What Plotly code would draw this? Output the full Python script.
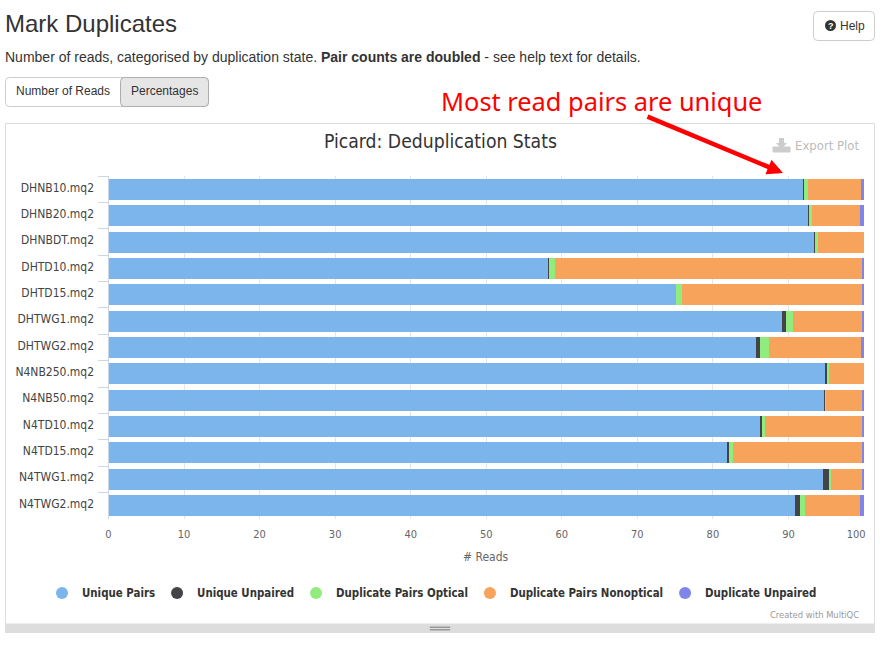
import plotly.graph_objects as go

W, H = 884, 645

samples = ['DHNB10.mq2', 'DHNB20.mq2', 'DHNBDT.mq2', 'DHTD10.mq2', 'DHTD15.mq2', 'DHTWG1.mq2', 'DHTWG2.mq2',
           'N4NB250.mq2', 'N4NB50.mq2', 'N4TD10.mq2', 'N4TD15.mq2', 'N4TWG1.mq2', 'N4TWG2.mq2']
unique_pairs = [91.9, 92.6, 93.4, 58.2, 75.1, 89.15, 85.7, 94.85, 94.7, 86.2, 81.85, 94.55, 90.85]
unique_unpaired = [0.13, 0.13, 0.13, 0.13, 0.0, 0.53, 0.53, 0.26, 0.13, 0.26, 0.26, 0.8, 0.66]
dup_optical = [0.57, 0.4, 0.4, 0.8, 0.8, 0.93, 1.2, 0.26, 0.13, 0.4, 0.53, 0.26, 0.66]
dup_nonoptical = [7.0, 6.35, 6.07, 40.6, 23.85, 9.13, 12.17, 4.63, 4.77, 12.87, 17.09, 4.12, 7.3]
dup_unpaired = [0.4, 0.52, 0.0, 0.27, 0.25, 0.26, 0.4, 0.0, 0.27, 0.27, 0.27, 0.27, 0.53]

series_names = ['Unique Pairs', 'Unique Unpaired', 'Duplicate Pairs Optical', 'Duplicate Pairs Nonoptical',
                'Duplicate Unpaired']
series_values = [unique_pairs, unique_unpaired, dup_optical, dup_nonoptical, dup_unpaired]
series_colors = ['#7cb5ec', '#434348', '#90ed7d', '#f7a35c', '#8085e9']

x_ticks = list(range(0, 101, 10))
x_labels = [str(t) for t in x_ticks]
x_labels[-1] = '100' + '\u00a0' * 5

chart_font = 'DejaVu Sans Condensed, DejaVu Sans'
page_font = 'Liberation Sans, Arial'


def px(x):
    return x / W


def py(y):
    return 1 - y / H


def round_rect(x0, y0, x1, y1, r=4):
    return (f'M {px(x0 + r)} {py(y0)} L {px(x1 - r)} {py(y0)} Q {px(x1)} {py(y0)} {px(x1)} {py(y0 + r)} '
            f'L {px(x1)} {py(y1 - r)} Q {px(x1)} {py(y1)} {px(x1 - r)} {py(y1)} '
            f'L {px(x0 + r)} {py(y1)} Q {px(x0)} {py(y1)} {px(x0)} {py(y1 - r)} '
            f'L {px(x0)} {py(y0 + r)} Q {px(x0)} {py(y0)} {px(x0 + r)} {py(y0)} Z')


def text(x, y, s, size, color='#333333', family=page_font, anchor='left'):
    return dict(x=px(x), y=py(y), xref='paper', yref='paper', text=s, showarrow=False, xanchor=anchor,
                yanchor='middle', font=dict(size=size, color=color, family=family))


def rect(x0, y0, x1, y1, fill='rgba(0,0,0,0)', line='#dddddd'):
    return dict(type='rect', xref='paper', yref='paper', x0=px(x0), y0=py(y0), x1=px(x1), y1=py(y1),
                fillcolor=fill, line=dict(color=line, width=1), layer='below')


def rpath(x0, y0, x1, y1, fill='rgba(0,0,0,0)', line='#cccccc'):
    return dict(type='path', xref='paper', yref='paper', path=round_rect(x0, y0, x1, y1), fillcolor=fill,
                line=dict(color=line, width=1), layer='below')


fig = go.Figure()

for name, values, color in zip(series_names, series_values, series_colors):
    fig.add_trace(go.Bar(y=samples, x=values, name=name, orientation='h', marker=dict(color=color, line=dict(width=0)),
                         legendgroup=name, showlegend=False))
    # bars only get square legend keys, the original has round ones
    fig.add_trace(go.Scatter(x=[None], y=[None], mode='markers', name=name, legendgroup=name,
                             marker=dict(color=color, size=12, symbol='circle')))

shapes = [
    rect(5.5, 123.5, 874.5, 632.5),
    rect(5.5, 624, 874.5, 632.5, fill='#dddddd'),
    rect(430, 627, 450, 627.5, fill='#999999', line='#999999'),
    rect(430, 629.5, 450, 630, fill='#999999', line='#999999'),
    rpath(5.5, 77.5, 208.5, 106.5),
    rpath(120.5, 77.5, 208.5, 106.5, fill='#e6e6e6', line='#adadad'),
    rpath(813.5, 11.5, 874.5, 40.5),
    # help icon
    dict(type='circle', xref='paper', yref='paper', x0=px(825), y0=py(20), x1=px(836), y1=py(31),
         fillcolor='#333333', line=dict(width=0), layer='below'),
    # export icon
    rect(773, 147, 790, 152, fill='#cccccc', line='#cccccc'),
    dict(type='path', xref='paper', yref='paper', layer='below', fillcolor='#cccccc', line=dict(width=0),
         path=f'M {px(779)} {py(138)} L {px(784)} {py(138)} L {px(784)} {py(143)} L {px(787)} {py(143)} '
              f'L {px(781.5)} {py(149)} L {px(776)} {py(143)} L {px(779)} {py(143)} Z'),
]

annotations = [
    text(3, 23, 'Mark Duplicates', 24),
    text(3, 57, 'Number of reads, categorised by duplication state. <b>Pair counts are doubled</b> - see help text for details.', 14),
    text(63, 91.5, 'Number of Reads', 12, anchor='center'),
    text(164.5, 91.5, 'Percentages', 12, anchor='center'),
    text(830.5, 25.5, '<b>?</b>', 9, color='#ffffff', anchor='center'),
    text(838, 25.5, 'Help', 12),
    text(438.5, 101, 'Most read pairs are unique', 25.4, color='#ff0000', family='Noto Sans'),
    text(440, 141.5, 'Picard: Deduplication Stats', 19.2, color='#333333', family=chart_font, anchor='center'),
    text(793, 145.5, 'Export Plot', 13, color='#bbbbbb', family=chart_font),
    text(486, 557, '# Reads', 12, color='#666666', family=chart_font, anchor='center'),
    text(861, 614, 'Created with MultiQC', 9.3, color='#999999', family=chart_font, anchor='right'),
    dict(x=px(783), y=py(173), ax=-137, ay=-57, xref='paper', yref='paper', text='', showarrow=True,
         arrowhead=2, arrowsize=0.7, arrowwidth=4.5, arrowcolor='#ff0000'),
]

fig.update_layout(
    width=W,
    height=H,
    margin=dict(l=0, r=0, t=0, b=0, autoexpand=False),
    paper_bgcolor='#ffffff',
    plot_bgcolor='rgba(0,0,0,0)',
    barmode='stack',
    bargap=0.2,
    font=dict(family=chart_font),
    shapes=shapes,
    annotations=annotations,
    xaxis=dict(domain=[px(108.5), px(864)], range=[0, 100], tickvals=x_ticks, ticktext=x_labels, showgrid=True,
               gridcolor='#e6e6e6', gridwidth=1, zeroline=False, showline=False, ticks='', automargin=False,
               tickfont=dict(size=11, color='#666666'), ticklabelstandoff=7, anchor='y'),
    yaxis=dict(domain=[py(518.7), py(176.3)], autorange='reversed', type='category', showgrid=False, showline=True,
               linecolor='#ccd6eb', linewidth=1, ticks='outside', tickson='boundaries', ticklen=10, automargin=False,
               tickcolor='#ccd6eb', tickfont=dict(size=12, color='#444444'), ticklabelstandoff=11, ticklabelshift=2,
               anchor='x'),
    legend=dict(orientation='h', x=px(45), y=py(593), xanchor='left', yanchor='middle', itemwidth=30, indentation=-3,
                font=dict(size=11.4, color='#333333', family=chart_font, weight='bold'), bgcolor='rgba(0,0,0,0)',
                traceorder='normal'),
)

fig.write_html('out.html', post_script="document.body.style.margin='0';", config={'displayModeBar': False})
